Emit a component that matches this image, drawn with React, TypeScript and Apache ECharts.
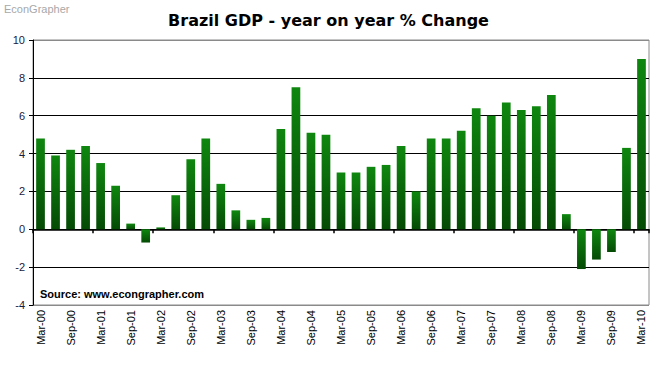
import React, { useEffect, useRef } from "react";
import * as echarts from "echarts";

const years = ["00", "01", "02", "03", "04", "05", "06", "07", "08", "09", "10"];
const months = ["Mar", "Jun", "Sep", "Dec"];
const categories: string[] = [];
years.forEach((y) => months.forEach((m) => categories.push(`${m}-${y}`)));
categories.splice(41);

const gdpChange = [
  4.8, 3.9, 4.2, 4.4, 3.5, 2.3, 0.3, -0.7, 0.1, 1.8, 3.7, 4.8, 2.4, 1.0, 0.5, 0.6,
  5.3, 7.5, 5.1, 5.0, 3.0, 3.0, 3.3, 3.4, 4.4, 2.0, 4.8, 4.8, 5.2, 6.4, 6.0, 6.7,
  6.3, 6.5, 7.1, 0.8, -2.1, -1.6, -1.2, 4.3, 9.0,
];

const yMin = -4;
const yMax = 10;
const yStep = 2;

export default function App() {
  const ref = useRef<HTMLDivElement>(null);
  useEffect(() => {
    if (!ref.current) return;
    const chart = echarts.init(ref.current, null, { renderer: "svg" });
    const font = "'Liberation Sans', Arial, sans-serif";
    chart.setOption({
      animation: false,
      backgroundColor: "#ffffff",
      title: {
        text: "Brazil GDP - year on year % Change",
        left: "center",
        top: 7,
        textStyle: { fontFamily: "'DejaVu Sans', sans-serif", fontSize: 16, fontWeight: "bold", color: "#000" },
      },
      graphic: [
        {
          type: "text",
          left: 4,
          top: 3,
          style: { text: "EconGrapher", fontFamily: font, fontSize: 11, fill: "#a8a8a8" },
        },
        {
          type: "text",
          left: 40,
          top: 288,
          style: { text: "Source: www.econgrapher.com", fontFamily: font, fontSize: 11, fontWeight: "bold", fill: "#000" },
        },
      ],
      grid: {
        left: 33,
        right: 8,
        top: 40,
        bottom: 60,
        show: true,
        borderColor: "#8a8a8a",
        borderWidth: 1,
        containLabel: false,
      },
      xAxis: [
        {
          type: "category",
          data: categories,
          position: "bottom",
          axisLine: { show: false, onZero: false },
          axisTick: { show: false },
          axisLabel: {
            rotate: 90,
            interval: 1,
            margin: 5,
            fontFamily: font,
            fontSize: 11,
            color: "#000",
          },
        },
        {
          type: "category",
          data: categories,
          position: "bottom",
          axisLine: { show: true, onZero: true, lineStyle: { color: "#000", width: 1.5 } },
          axisTick: { show: true, length: 4, lineStyle: { color: "#000", width: 1.5 } },
          axisLabel: { show: false },
        },
      ],
      yAxis: {
        type: "value",
        min: yMin,
        max: yMax,
        interval: yStep,
        axisLine: { show: true, lineStyle: { color: "#000" } },
        axisTick: { show: true, length: 4, lineStyle: { color: "#000" } },
        axisLabel: { fontFamily: font, fontSize: 11, color: "#1a1a3a", margin: 8 },
        splitLine: {
          show: true,
          lineStyle: {
            color: ["#8a8a8a", "#000", "#000", "#000", "#000", "#000", "#000", "#8a8a8a"],
            width: 1,
          },
        },
      },
      series: [
        {
          type: "bar",
          xAxisIndex: 0,
          data: gdpChange,
          barWidth: "58%",
          itemStyle: {
            color: new echarts.graphic.LinearGradient(0, 0, 0, 1, [
              { offset: 0, color: "#0f870f" },
              { offset: 1, color: "#054a05" },
            ]),
          },
        },
      ],
    });
    return () => chart.dispose();
  }, []);
  return <div ref={ref} style={{ width: 657, height: 365, position: "absolute", left: 0, top: 0 }} />;
}
